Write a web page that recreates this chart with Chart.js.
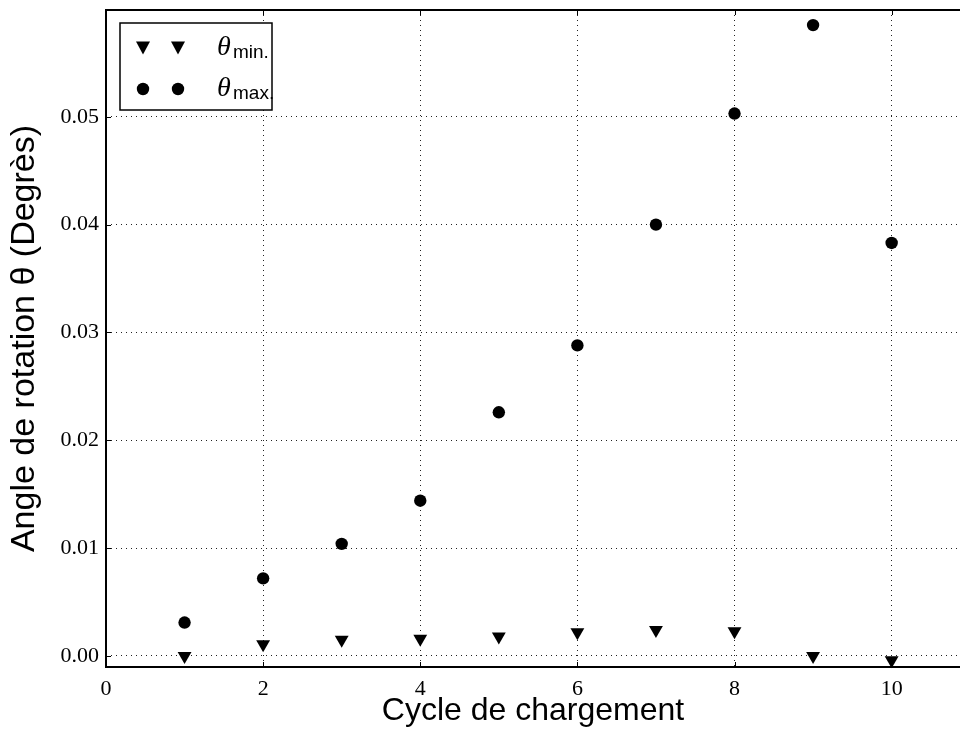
<!DOCTYPE html>
<html>
<head>
<meta charset="utf-8">
<script src="https://cdn.jsdelivr.net/npm/chart.js@4"></script>
<style>
  html, body { margin:0; padding:0; background:#fff; }
</style>
</head>
<body>
<canvas id="c" width="960" height="731"></canvas>
<script>
// Données
const cycles   = [1, 2, 3, 4, 5, 6, 7, 8, 9, 10];
const thetaMin = [0.0000, 0.0011, 0.0015, 0.0016, 0.0018, 0.0022, 0.0024, 0.0023, 0.0000, -0.0004];
const thetaMax = [0.0031, 0.0072, 0.0104, 0.0144, 0.0226, 0.0288, 0.0400, 0.0503, 0.0585, 0.0383];
const xTicks = [0, 2, 4, 6, 8, 10];
const yTicks = [0, 0.01, 0.02, 0.03, 0.04, 0.05];

const serif = "'Liberation Serif', 'DejaVu Serif', serif";
const sans  = "'Liberation Sans', 'DejaVu Sans', sans-serif";

// cadre + graduations intérieures
const framePlugin = {
  id: 'frame',
  beforeDatasetsDraw(chart){
    const {ctx, chartArea:a, scales:{x, y}} = chart;
    ctx.save();
    ctx.strokeStyle = '#000';
    ctx.lineWidth = 1;
    ctx.beginPath();
    xTicks.forEach(v=>{
      const px = Math.round(x.getPixelForValue(v)) + 0.5;
      ctx.moveTo(px, a.bottom); ctx.lineTo(px, a.bottom - 5);
      ctx.moveTo(px, a.top);    ctx.lineTo(px, a.top + 5);
    });
    yTicks.forEach(v=>{
      const py = Math.round(y.getPixelForValue(v)) + 0.5;
      ctx.moveTo(a.left, py); ctx.lineTo(a.left + 5, py);
    });
    ctx.stroke();
    ctx.lineWidth = 2;
    ctx.strokeRect(a.left, a.top, a.right - a.left + 10, a.bottom - a.top);
    ctx.restore();
  }
};

// légende
const legendPlugin = {
  id: 'thetaLegend',
  afterDraw(chart){
    const {ctx, chartArea:a} = chart;
    const bx = a.left + 14, by = a.top + 13, bw = 152, bh = 87;
    ctx.save();
    ctx.fillStyle = '#fff';
    ctx.fillRect(bx, by, bw, bh);
    ctx.strokeStyle = '#000';
    ctx.lineWidth = 1.5;
    ctx.strokeRect(bx, by, bw, bh);
    ctx.fillStyle = '#000';
    const rows = [
      {sym:'tri', sub:'min.', cy: by + 25},
      {sym:'dot', sub:'max.', cy: by + 66}
    ];
    rows.forEach(r=>{
      [bx + 23, bx + 58].forEach(mx=>{
        ctx.beginPath();
        if (r.sym === 'tri') {
          ctx.moveTo(mx - 7, r.cy - 6.5);
          ctx.lineTo(mx + 7, r.cy - 6.5);
          ctx.lineTo(mx, r.cy + 6.5);
          ctx.closePath();
        } else {
          ctx.arc(mx, r.cy, 6.2, 0, Math.PI*2);
        }
        ctx.fill();
      });
      ctx.textBaseline = 'alphabetic';
      ctx.textAlign = 'left';
      ctx.font = "italic 28px " + serif;
      ctx.fillText('θ', bx + 97, r.cy + 7);
      ctx.font = "19px " + sans;
      ctx.fillText(r.sub, bx + 113, r.cy + 10);
    });
    ctx.restore();
  }
};

new Chart(document.getElementById('c'), {
  type: 'scatter',
  data: {
    datasets: [
      {
        label: 'θmin.',
        data: cycles.map((c,i)=>({x:c, y:thetaMin[i]})),
        pointStyle: 'triangle',
        rotation: 180,
        pointRadius: 8,
        pointHoverRadius: 8,
        backgroundColor: '#000',
        borderColor: '#000',
        borderWidth: 0
      },
      {
        label: 'θmax.',
        data: cycles.map((c,i)=>({x:c, y:thetaMax[i]})),
        pointStyle: 'circle',
        pointRadius: 6.2,
        pointHoverRadius: 6.2,
        backgroundColor: '#000',
        borderColor: '#000',
        borderWidth: 0
      }
    ]
  },
  options: {
    responsive: false,
    animation: false,
    devicePixelRatio: 1,
    clip: false,
    layout: { autoPadding: false, padding: { top: 10, left: 0, right: 0, bottom: 0 } },
    plugins: { legend: { display: false }, tooltip: { enabled: false } },
    scales: {
      x: {
        type: 'linear',
        min: 0,
        max: 10.87,
        afterBuildTicks: s => { s.ticks = xTicks.map(v=>({value:v})); },
        afterFit: s => { s.height = 64; s.paddingLeft = 0; s.paddingRight = 0; },
        grid: { color: '#222', lineWidth: 1, drawTicks: false },
        border: { display: false, dash: [1, 4] },
        ticks: {
          padding: 9,
          color: '#000',
          font: { family: serif, size: 22 },
          callback: v => String(v)
        },
        title: {
          display: true,
          text: 'Cycle de chargement',
          color: '#000',
          font: { family: sans, size: 32 },
          padding: { top: 0, bottom: 1 }
        }
      },
      y: {
        type: 'linear',
        min: -0.00102,
        max: 0.0599,
        afterBuildTicks: s => { s.ticks = yTicks.map(v=>({value:v})); },
        afterFit: s => { s.width = 106; s.paddingTop = 0; s.paddingBottom = 0; },
        grid: { color: '#222', lineWidth: 1, drawTicks: false },
        border: { display: false, dash: [1, 4] },
        ticks: {
          padding: 7,
          color: '#000',
          font: { family: serif, size: 22 },
          callback: v => v.toFixed(2)
        },
        title: {
          display: true,
          text: 'Angle de rotation θ (Degrès)',
          color: '#000',
          font: { family: sans, size: 34 },
          padding: { top: 4, bottom: 0 }
        }
      }
    }
  },
  plugins: [framePlugin, legendPlugin]
});
</script>
</body>
</html>
